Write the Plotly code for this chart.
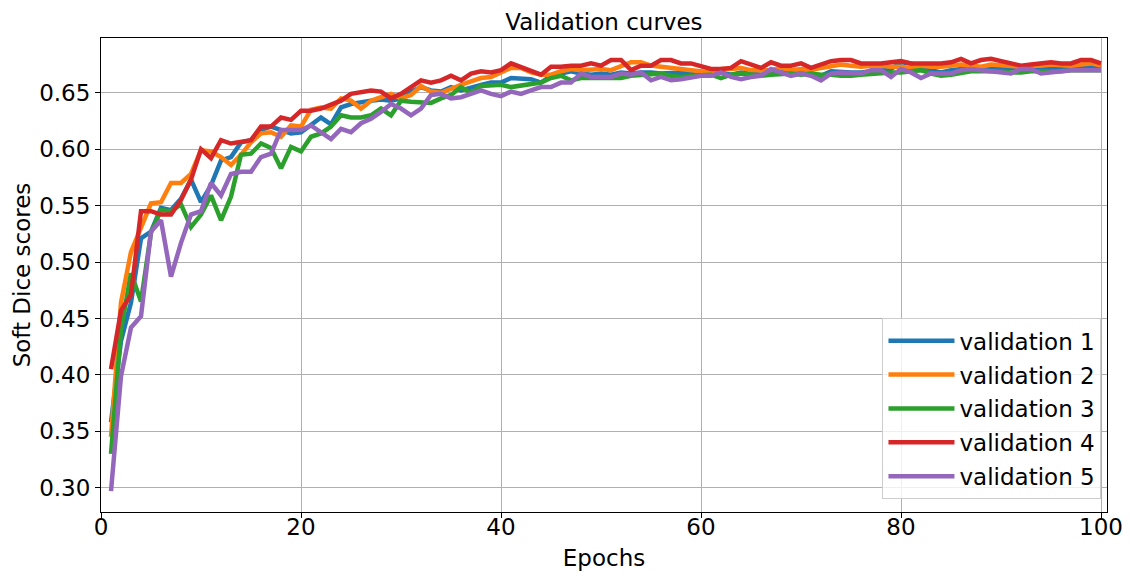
import plotly.graph_objects as go

epochs = list(range(1, 101))

val1 = [0.358, 0.43, 0.464, 0.521, 0.527, 0.548, 0.546, 0.556, 0.573, 0.553,
        0.568, 0.590, 0.593, 0.606, 0.608, 0.617, 0.620, 0.617, 0.614,
        0.615, 0.622, 0.628, 0.622, 0.637, 0.640, 0.642, 0.643, 0.644, 0.643,
        0.645, 0.651, 0.655, 0.652, 0.651, 0.655, 0.652, 0.655, 0.657, 0.659,
        0.659, 0.663, 0.662, 0.662, 0.659, 0.665, 0.667, 0.669,
        0.667, 0.666, 0.667, 0.666, 0.668, 0.667, 0.668, 0.668, 0.667, 0.668,
        0.668, 0.667, 0.665, 0.667, 0.668, 0.666, 0.668, 0.667, 0.666, 0.668,
        0.669, 0.667, 0.668, 0.666, 0.665, 0.669, 0.668, 0.668,
        0.668, 0.669, 0.670, 0.671, 0.677, 0.676, 0.672, 0.670, 0.668, 0.670,
        0.671, 0.672, 0.671, 0.672, 0.671, 0.672, 0.673, 0.672, 0.671, 0.672,
        0.673, 0.672, 0.673, 0.673, 0.672]

val2 = [0.345, 0.464, 0.509, 0.531, 0.552, 0.553, 0.570, 0.570, 0.578, 0.599,
        0.598, 0.593, 0.586, 0.595, 0.606, 0.614, 0.615, 0.611, 0.621,
        0.620, 0.635, 0.637, 0.636, 0.645, 0.643, 0.636, 0.643, 0.646, 0.649,
        0.645, 0.648, 0.656, 0.651, 0.650, 0.654, 0.657, 0.660, 0.663, 0.664,
        0.668, 0.672, 0.672, 0.668, 0.666, 0.666, 0.669, 0.671,
        0.670, 0.671, 0.671, 0.670, 0.674, 0.677, 0.677, 0.674, 0.673, 0.672,
        0.671, 0.671, 0.669, 0.668, 0.671, 0.671, 0.672, 0.670, 0.670, 0.670,
        0.672, 0.670, 0.671, 0.670, 0.672, 0.673, 0.675, 0.674,
        0.673, 0.674, 0.674, 0.673, 0.673, 0.672, 0.674, 0.673, 0.673, 0.674,
        0.675, 0.674, 0.673, 0.675, 0.674, 0.673, 0.673, 0.674, 0.674, 0.675,
        0.674, 0.674, 0.675, 0.676, 0.674]

val3 = [0.330, 0.440, 0.490, 0.465, 0.526, 0.546, 0.545, 0.551, 0.531, 0.542,
        0.559, 0.537, 0.558, 0.595, 0.596, 0.605, 0.601, 0.583, 0.602,
        0.598, 0.611, 0.614, 0.620, 0.630, 0.628, 0.628, 0.630, 0.636, 0.630,
        0.643, 0.642, 0.641, 0.641, 0.645, 0.648, 0.655, 0.650, 0.656, 0.656,
        0.657, 0.655, 0.656, 0.658, 0.659, 0.663, 0.665, 0.661,
        0.663, 0.663, 0.663, 0.664, 0.663, 0.665, 0.666, 0.667, 0.667, 0.665,
        0.664, 0.665, 0.666, 0.666, 0.663, 0.666, 0.667, 0.666, 0.665, 0.666,
        0.667, 0.667, 0.666, 0.667, 0.666, 0.666, 0.665, 0.665,
        0.666, 0.667, 0.668, 0.668, 0.668, 0.669, 0.670, 0.667, 0.665, 0.666,
        0.668, 0.669, 0.669, 0.669, 0.669, 0.668, 0.668, 0.669, 0.669, 0.669,
        0.669, 0.670, 0.670, 0.670, 0.670]

val4 = [0.405, 0.457, 0.471, 0.545, 0.545, 0.542, 0.542, 0.555, 0.573, 0.600,
        0.592, 0.608, 0.605, 0.606, 0.608, 0.620, 0.620, 0.628, 0.626,
        0.634, 0.634, 0.636, 0.639, 0.643, 0.649, 0.651, 0.652, 0.651, 0.645,
        0.649, 0.655, 0.661, 0.659, 0.661, 0.665, 0.661, 0.667, 0.669, 0.668,
        0.670, 0.676, 0.673, 0.669, 0.666, 0.673, 0.673, 0.674,
        0.674, 0.676, 0.674, 0.679, 0.679, 0.670, 0.674, 0.674, 0.679, 0.679,
        0.676, 0.676, 0.674, 0.671, 0.671, 0.672, 0.678, 0.675, 0.672, 0.677,
        0.674, 0.674, 0.676, 0.672, 0.675, 0.678, 0.679, 0.679,
        0.676, 0.676, 0.676, 0.677, 0.678, 0.676, 0.676, 0.676, 0.676, 0.677,
        0.680, 0.676, 0.679, 0.680, 0.678, 0.675, 0.674, 0.675, 0.676, 0.677,
        0.676, 0.676, 0.679, 0.679, 0.676]

val5 = [0.297, 0.399, 0.442, 0.452, 0.527, 0.537, 0.487, 0.517, 0.542, 0.545,
        0.570, 0.559, 0.578, 0.580, 0.580, 0.593, 0.596, 0.617, 0.617,
        0.617, 0.621, 0.615, 0.609, 0.618, 0.615, 0.623, 0.627, 0.633, 0.640,
        0.636, 0.630, 0.636, 0.648, 0.649, 0.645, 0.646, 0.649, 0.652, 0.649,
        0.647, 0.651, 0.649, 0.652, 0.655, 0.655, 0.659, 0.659,
        0.667, 0.664, 0.664, 0.664, 0.667, 0.666, 0.668, 0.661, 0.664, 0.661,
        0.662, 0.664, 0.665, 0.665, 0.668, 0.664, 0.662, 0.664, 0.665, 0.671,
        0.668, 0.665, 0.667, 0.665, 0.661, 0.667, 0.668, 0.667,
        0.667, 0.670, 0.670, 0.664, 0.671, 0.668, 0.663, 0.667, 0.667, 0.667,
        0.670, 0.671, 0.670, 0.669, 0.667, 0.667, 0.671, 0.671, 0.667, 0.668,
        0.670, 0.670, 0.670, 0.670, 0.670]

series_names = ["validation 1", "validation 2", "validation 3", "validation 4", "validation 5"]
series_values = [val1, val2, val3, val4, val5]
colors = ["#1f77b4", "#ff7f0e", "#2ca02c", "#d62728", "#9467bd"]

x_ticks = [0, 20, 40, 60, 80, 100]
y_ticks = [0.30, 0.35, 0.40, 0.45, 0.50, 0.55, 0.60, 0.65]

FONT = "DejaVu Sans"
FS = 23

fig = go.Figure()
for name, vals, col in zip(series_names, series_values, colors):
    fig.add_trace(go.Scatter(
        x=list(range(1, len(vals) + 1)), y=vals, name=name, mode="lines",
        line=dict(color=col, width=4.5), legendgroup=name,
    ))

axis_common = dict(
    showline=True, linecolor="black", linewidth=1, mirror=True,
    ticks="outside", ticklen=5, tickcolor="black", tickwidth=1,
    showgrid=True, gridcolor="#b0b0b0", gridwidth=1, zeroline=False,
    tickfont=dict(family=FONT, size=FS, color="black"),
    automargin=False,
)

fig.update_layout(
    width=1131, height=574,
    margin=dict(l=101, r=24, t=38, b=62),
    paper_bgcolor="white", plot_bgcolor="white",
    font=dict(family=FONT, color="black"),
    title=dict(text="Validation curves", x=0.534, xanchor="center",
               y=1 - 22 / 574, yanchor="middle", yref="container",
               font=dict(family=FONT, size=FS, color="black")),
    xaxis=dict(range=[0, 100.6], tickvals=x_ticks, ticklabelstandoff=-11,
               title=dict(text="Epochs", font=dict(family=FONT, size=FS), standoff=11),
               **axis_common),
    yaxis=dict(range=[0.2785, 0.6985], tickvals=y_ticks, tickformat=".2f",
               title=dict(text="Soft Dice scores", font=dict(family=FONT, size=FS), standoff=2),
               **axis_common),
    legend=dict(x=0.9945, y=0.027, xanchor="right", yanchor="bottom",
                bgcolor="rgba(255,255,255,0.8)", bordercolor="#cccccc", borderwidth=1,
                font=dict(family=FONT, size=FS, color="black"),
                tracegroupgap=1, itemwidth=66),
    showlegend=True,
)

fig.write_html("out.html")
